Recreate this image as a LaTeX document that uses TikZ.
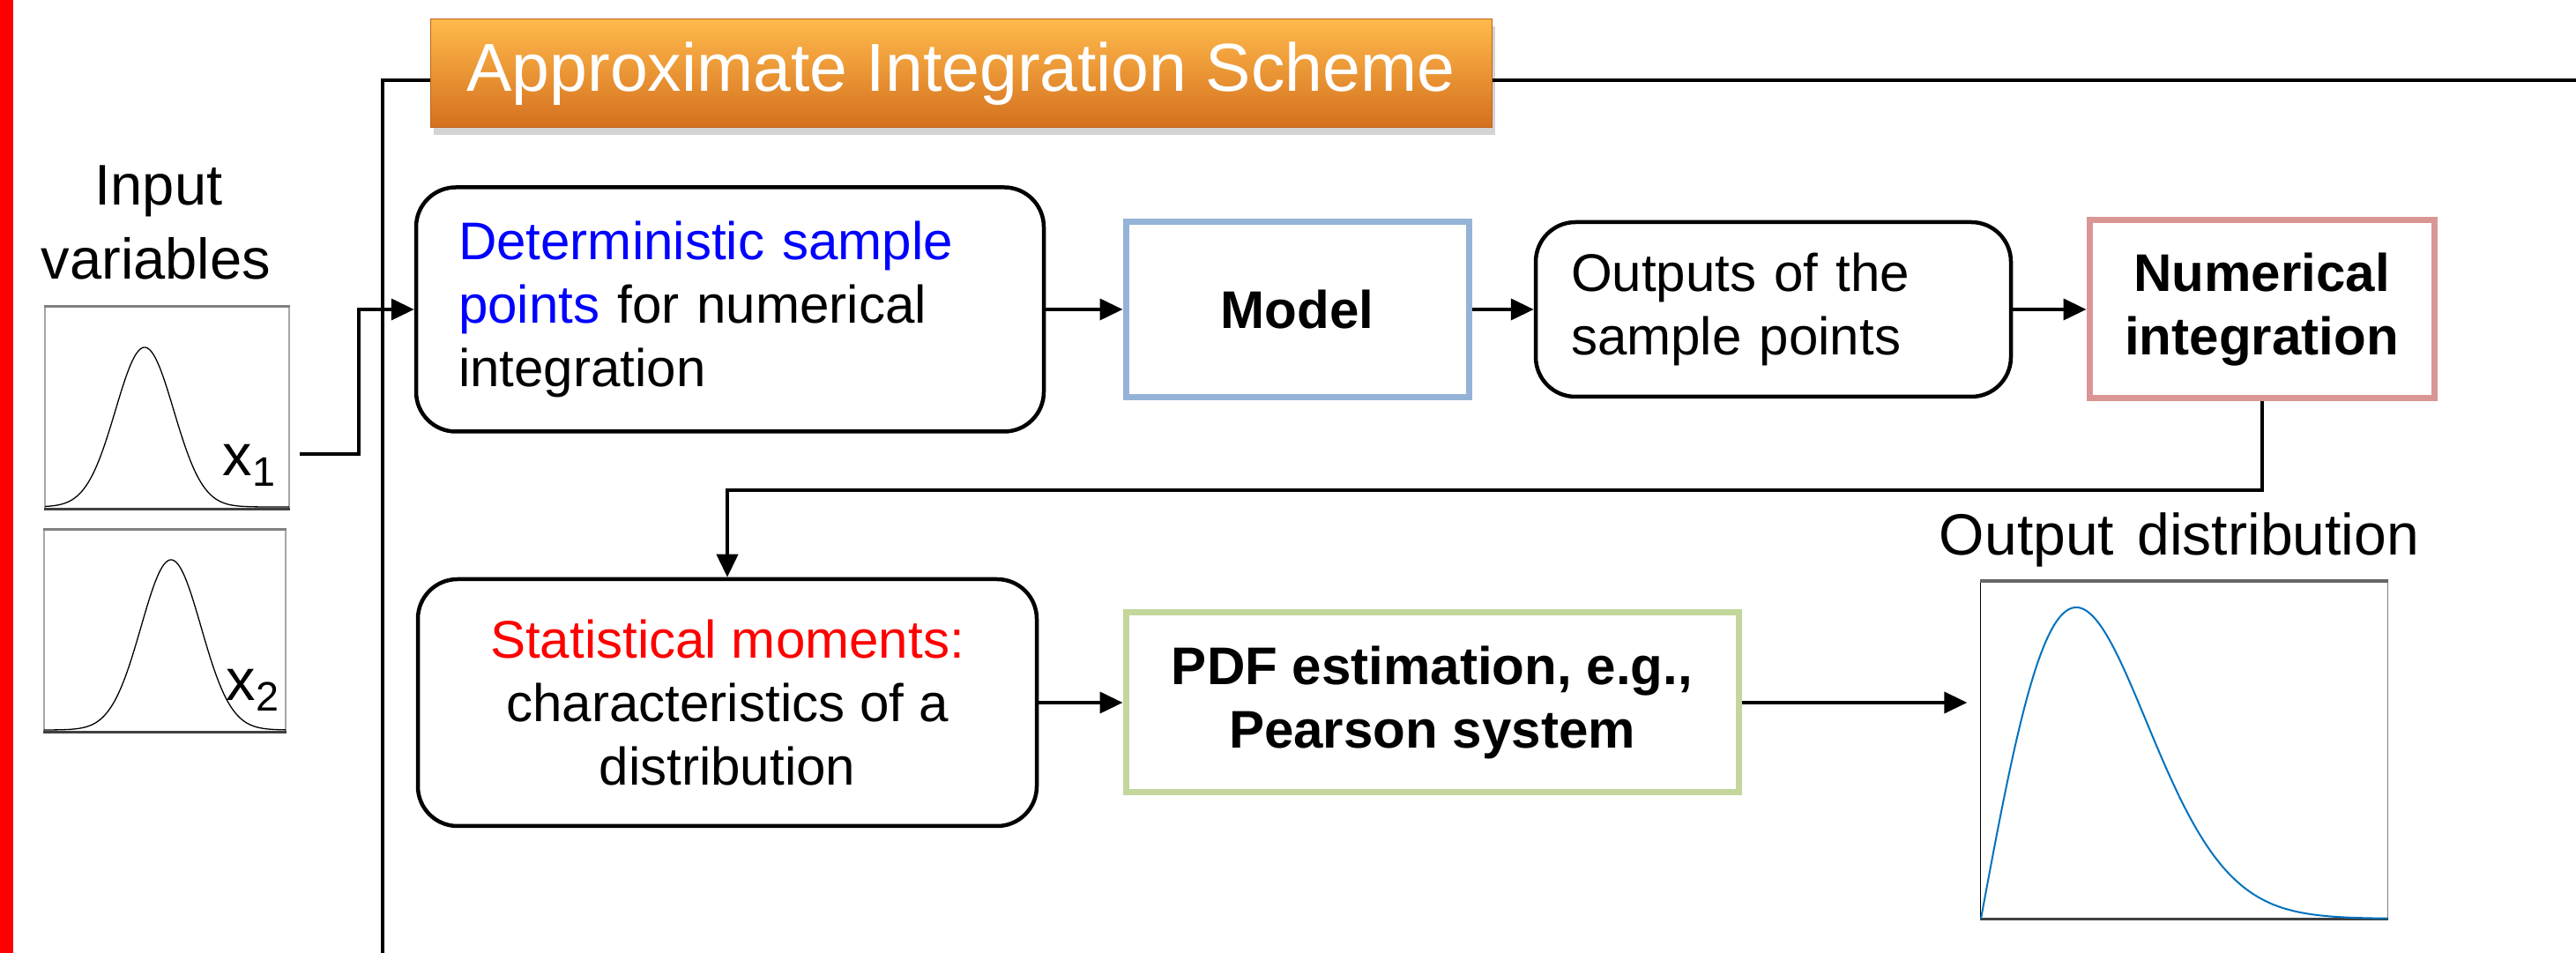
\documentclass[tikz,border=0pt]{standalone}
\usepackage{fontspec}
\setmainfont{Liberation Sans}
\usetikzlibrary{arrows.meta,shadows}
\definecolor{detblue}{RGB}{0,0,255}
\definecolor{modelblue}{RGB}{149,179,215}
\definecolor{numred}{RGB}{217,150,148}
\definecolor{pdfgreen}{RGB}{195,214,155}
\definecolor{curveblue}{RGB}{0,114,189}
\definecolor{orangetop}{RGB}{255,185,75}
\definecolor{orangemid}{RGB}{245,148,45}
\definecolor{orangebot}{RGB}{212,112,30}
\begin{document}
\begin{tikzpicture}[font=\fontsize{17.1}{20.6}\selectfont,
  roundbox/.style={draw=black, fill=white, line width=0.045cm, rounded corners=0.45cm},
  colbox/.style={draw=#1, fill=white, line width=0.07cm, align=center, font=\fontsize{17.1}{20.6}\selectfont\bfseries},
  plotbox/.style={draw=gray!70, line width=0.015cm, inner sep=0pt},
  axisline/.style={black!75, line width=0.035cm},
  frame/.style={black, line width=0.035cm},
  arr/.style={-{Triangle[length=0.26cm,width=0.24cm]}, line width=0.04cm},
  bigtext/.style={font=\fontsize{18.5}{22}\selectfont, inner sep=0pt}]
  \useasboundingbox (0,0) rectangle (29.22,-10.81);
  \fill[red] (0,0) rectangle (0.15,-10.81);
  \coordinate (frtop) at (4.34,-0.91);
  \coordinate (frbot) at (4.34,-10.81);
  \coordinate (frend) at (29.22,-0.91);
  \node[top color=orangetop, middle color=orangemid, bottom color=orangebot, draw=orangebot!90!black, line width=0.01cm,
    drop shadow={shadow xshift=0.04cm, shadow yshift=-0.08cm, opacity=0.35},
    minimum width=12.04cm, minimum height=1.23cm, inner sep=0pt, text=white,
    font=\fontsize{21.9}{26}\selectfont] (title) at (10.90,-0.835) {Approximate Integration Scheme};
  \draw[frame] (frbot) -- (frtop) -- (frtop -| title.west);
  \draw[frame] (frtop -| title.east) -- (frend);
  \node[bigtext, anchor=base] (inlab1) at (1.80,-2.33) {Input};
  \node[bigtext, anchor=base] (inlab2) at (1.77,-3.17) {variables};
  \node[plotbox, minimum width=2.77cm, minimum height=2.29cm] (in1) at (1.895,-4.625) {};
  \node[plotbox, minimum width=2.74cm, minimum height=2.29cm] (in2) at (1.870,-7.155) {};
  \draw[axisline] (in1.south west) -- (in1.south east);
  \draw[axisline] (in2.south west) -- (in2.south east);
  \draw[gray, line width=0.03cm] (in1.north west) -- (in1.north east);
  \draw[gray, line width=0.03cm] (in2.north west) -- (in2.north east);
  \draw[line width=0.013cm] plot[domain=0.51:3.28, samples=120, smooth] (\x,{-5.75+1.81*exp(-((\x-1.64)*(\x-1.64))/(2*0.33*0.33))});
  \draw[line width=0.013cm] plot[domain=0.50:3.24, samples=120, smooth] (\x,{-8.28+1.93*exp(-((\x-1.94)*(\x-1.94))/(2*0.34*0.34))});
  \node[font=\fontsize{19}{22}\selectfont, anchor=base west, inner sep=0pt] (x1lab) at (2.52,-5.40) {x\textsubscript{1}};
  \node[font=\fontsize{19}{22}\selectfont, anchor=base west, inner sep=0pt] (x2lab) at (2.56,-7.95) {x\textsubscript{2}};
  \coordinate (x1out) at (3.40,-5.15);
  \node[roundbox, minimum width=7.12cm, minimum height=2.77cm, text width=6.16cm, inner xsep=0.48cm, align=left] (det) at (8.28,-3.51)
    {\textcolor{detblue}{Deterministic sample}\\\textcolor{detblue}{points} for numerical\\integration};
  \node[colbox=modelblue, minimum width=3.89cm, minimum height=1.99cm] (model) at (14.715,-3.51) {Model};
  \node[roundbox, minimum width=5.39cm, minimum height=1.98cm, text width=4.59cm, inner xsep=0.40cm, align=left] (outs) at (20.115,-3.51)
    {Outputs of the\\sample points};
  \node[colbox=numred, minimum width=3.91cm, minimum height=2.02cm] (numint) at (25.655,-3.51) {Numerical\\integration};
  \node[roundbox, minimum width=7.02cm, minimum height=2.80cm, align=center] (stat) at (8.25,-7.97)
    {\textcolor{red}{Statistical moments:}\\characteristics of a\\distribution};
  \node[colbox=pdfgreen, minimum width=6.95cm, minimum height=2.04cm] (pdf) at (16.245,-7.97) {PDF estimation, e.g.,\\Pearson system};
  \node[bigtext, anchor=base, font=\fontsize{18.8}{22}\selectfont] (outlab) at (24.72,-6.30) {Output\hspace{0.12em} distribution};
  \node[inner sep=0pt, minimum width=4.61cm, minimum height=3.82cm] (outplot) at (24.775,-8.51) {};
  \draw[black, line width=0.012cm] (outplot.north west) -- (outplot.south west);
  \draw[gray, line width=0.015cm] (outplot.north east) -- (outplot.south east);
  \draw[gray!80!black, line width=0.04cm] (outplot.north west) -- (outplot.north east);
  \draw[axisline] (outplot.south west) -- (outplot.south east);
  \draw[curveblue, line width=0.02cm] plot[domain=0:4.27, samples=150, smooth] ({22.47+1.08*\x},{-10.42+3.53*\x*exp((1-\x*\x)/2)});
  \draw[arr] (x1out) -- ++(0.67,0) |- (det.west);
  \draw[arr] (det) -- (model);
  \draw[arr] (model) -- (outs);
  \draw[arr] (outs) -- (numint);
  \draw[arr] (numint.south) -- ++(0,-1.01) -| (stat.north);
  \draw[arr] (stat) -- (pdf);
  \draw[arr, shorten >=0.15cm] (pdf.east) -- (pdf.east -| outplot.west);
\end{tikzpicture}
\end{document}
